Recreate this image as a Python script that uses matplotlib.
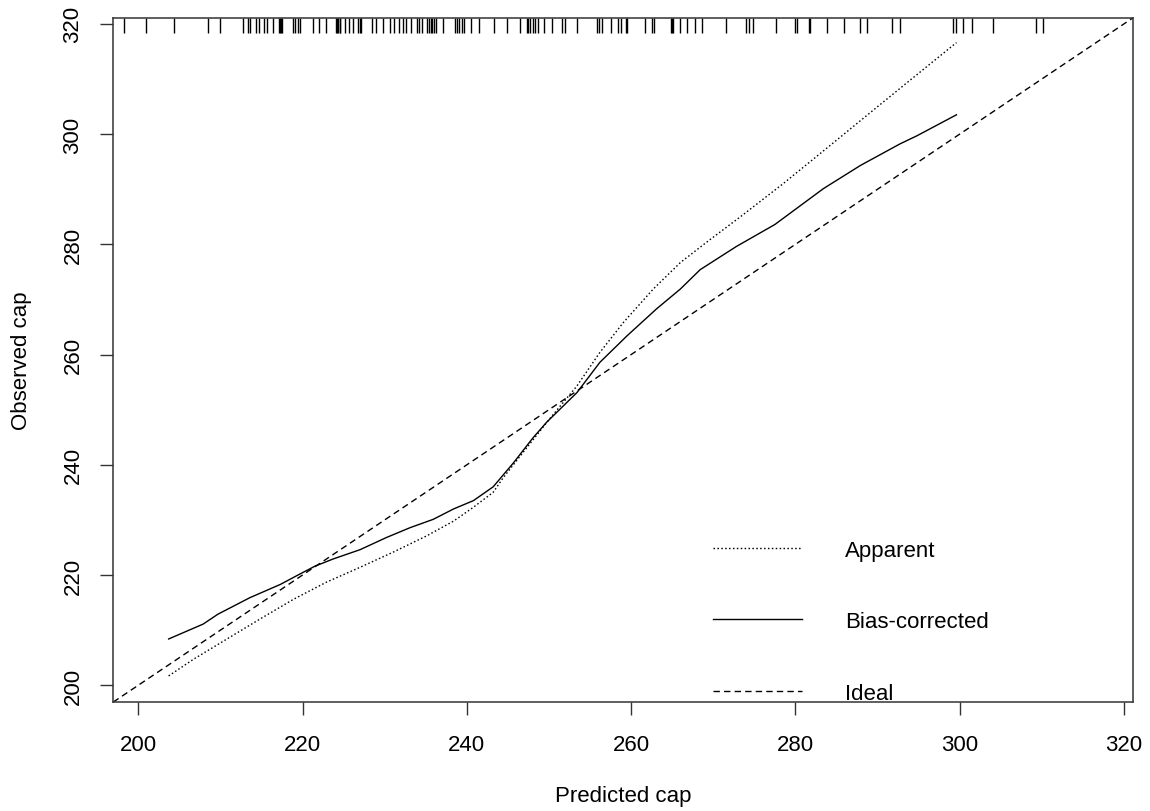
"""Calibration plot of observed vs predicted cap (apparent, bias-corrected, ideal).
"""

import matplotlib
matplotlib.use("Agg")
import matplotlib.pyplot as plt  # type: ignore

# predicted values shown as a rug along the top edge
rug_pred = [
    198.3, 200.9, 204.4, 208.5, 210.0, 212.8, 213.4, 213.6, 214.3, 214.7,
    215.3, 215.7, 216.4, 217.1, 217.3, 217.4, 217.5, 218.8, 219.1, 219.4,
    219.7, 221.3, 222.0, 222.9, 224.1, 224.2, 224.35, 224.5, 224.6, 225.2,
    225.6, 226.1, 226.8, 227.0, 227.1, 228.5, 229.0, 229.8, 230.6, 231.1,
    231.8, 232.2, 232.6, 233.2, 233.9, 234.2, 234.6, 235.1, 235.4, 235.6,
    235.8, 236.0, 236.2, 237.1, 238.5, 238.8, 239.0, 239.4, 239.7, 240.5,
    241.5, 243.3, 244.9, 246.5, 247.3, 247.4, 247.7, 248.0, 248.3, 248.7,
    249.4, 250.4, 251.6, 251.9, 253.4, 255.9, 256.1, 256.4, 257.6, 258.4,
    258.8, 259.4, 259.5, 261.7, 262.5, 262.8, 264.8, 265.0, 265.1, 266.0,
    266.8, 267.8, 268.6, 271.6, 274.0, 274.3, 274.8, 277.6, 279.9, 280.2,
    281.7, 281.8, 283.8, 285.9, 287.9, 288.7, 291.7, 292.7, 299.2, 299.5,
    300.4, 301.5, 304.0, 309.3, 310.1,
]

apparent_x = [
    203.7, 206.7, 210.8, 214.8, 218.9, 222.9, 227.0, 231.1, 235.1, 238.4,
    240.8, 243.2, 244.4, 246.5, 250.0, 253.4, 256.2, 259.1, 262.7, 266.0,
    269.2, 273.3, 278.5, 284.6, 288.7, 294.8, 299.6,
]
apparent_y = [
    201.7, 204.7, 208.4, 212.0, 215.6, 218.7, 221.4, 224.2, 227.1, 229.8,
    232.3, 235.0, 237.6, 241.6, 248.2, 254.3, 260.4, 265.9, 271.9, 276.7,
    280.4, 285.0, 291.0, 298.4, 303.4, 310.8, 316.6,
]

corrected_x = [
    203.7, 205.1, 207.9, 209.7, 213.6, 217.3, 219.7, 221.5, 223.7, 227.0,
    230.2, 233.1, 235.9, 238.4, 240.8, 243.2, 245.7, 248.0, 249.7, 253.4,
    256.2, 259.5, 263.1, 266.0, 268.4, 272.8, 277.5, 283.4, 287.9, 292.7,
    294.8, 299.6,
]
corrected_y = [
    208.4, 209.3, 211.1, 212.9, 215.9, 218.3, 220.2, 221.6, 222.9, 224.6,
    226.8, 228.6, 230.1, 232.0, 233.5, 236.0, 240.4, 244.8, 247.7, 253.1,
    258.6, 263.4, 268.3, 271.9, 275.4, 279.6, 283.6, 290.1, 294.3, 298.2,
    299.7, 303.5,
]

axis_ticks = [200, 220, 240, 260, 280, 300, 320]
axis_lim = (196.96, 321.06)


def make_calibration_plot(path: str) -> None:
    """Draw the calibration curves and save them to path."""
    plt.rcParams["font.family"] = ["Liberation Sans", "DejaVu Sans"]
    plt.rcParams["lines.scale_dashes"] = False

    fig = plt.figure(figsize=(11.5, 8.12), dpi=100)
    ax = fig.add_axes((0.0985, 0.1342, 0.8865, 0.8424))

    ax.plot(apparent_x, apparent_y, color="black", lw=1.0,
            dashes=(1.1, 1.7), label="Apparent")
    ax.plot(corrected_x, corrected_y, color="black", lw=1.0,
            label="Bias-corrected")
    ax.axline((200, 200), (300, 300), color="black", lw=1.0,
              dashes=(4.6, 3.0), label="Ideal")

    # rug of predictions hanging from the top border
    ax.vlines(rug_pred, 0.978, 1.0, transform=ax.get_xaxis_transform(),
              color="black", lw=1.0)

    ax.set_xlim(*axis_lim)
    ax.set_ylim(*axis_lim)
    ax.set_xticks(axis_ticks)
    ax.set_yticks(axis_ticks)
    ax.tick_params(length=9.4, width=1.0, labelsize=16, color="#333333")
    ax.tick_params(axis="x", pad=13.5)
    ax.tick_params(axis="y", pad=12, labelrotation=90)
    for lab in ax.get_yticklabels():
        lab.set_va("center")
    for side in ax.spines.values():
        side.set_linewidth(1.1)
        side.set_color("#333333")

    ax.set_xlabel("Predicted cap", fontsize=16, va="center")
    ax.set_ylabel("Observed cap", fontsize=16, va="center")
    ax.xaxis.set_label_coords(0.5, -0.137)
    ax.yaxis.set_label_coords(-0.0896, 0.5)

    ax.legend(loc="upper left", bbox_to_anchor=(0.5886, 0.2373),
              frameon=False, fontsize=16, handlelength=3.98,
              handletextpad=1.94, labelspacing=2.27,
              borderpad=0, borderaxespad=0)

    fig.savefig(path, dpi=100)
    plt.close(fig)


def main() -> None:
    make_calibration_plot("out.png")


if __name__ == "__main__":
    main()
